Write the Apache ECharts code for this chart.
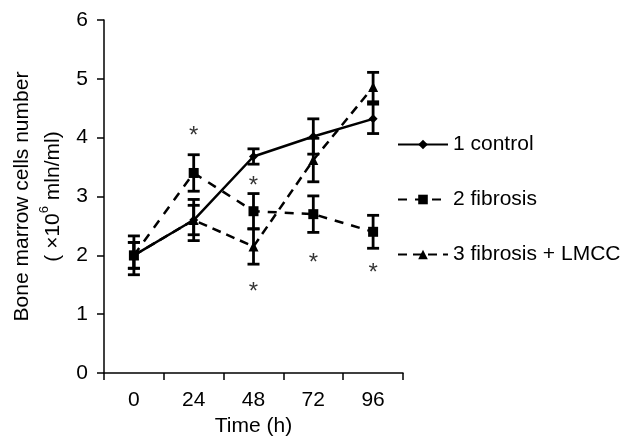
<!DOCTYPE html>
<html><head><meta charset="utf-8">
<script src="https://cdn.jsdelivr.net/npm/echarts@6/dist/echarts.min.js"></script>
<style>html,body{margin:0;padding:0;background:#fff}#c{width:622px;height:437px}</style>
</head><body><div id="c"></div>
<script>
var categories = ['0', '24', '48', '72', '96'];
var seriesNames = ['1 control', '2 fibrosis', '3 fibrosis + LMCC'];
var control = [2.0, 2.6, 3.68, 4.02, 4.32];
var controlErr = [0.22, 0.25, 0.13, 0.3, 0.25];
var fibrosis = [2.0, 3.4, 2.75, 2.7, 2.4];
var fibrosisErr = [0.33, 0.31, 0.3, 0.31, 0.28];
var lmcc = [2.0, 2.6, 2.15, 3.62, 4.86];
var lmccErr = [0.22, 0.35, 0.3, 0.37, 0.25];
// significance asterisks: [category index, y value]
var asterisks = [[1, 4.1], [2, 3.25], [2, 1.46], [3, 1.95], [4, 1.78]];
var yTicks = [0, 1, 2, 3, 4, 5, 6];

var FONT = 'Liberation Sans, Arial, sans-serif';
var FS = 21;

function errSeries(vals, errs) {
  var data = vals.map(function (v, i) { return [i, v - errs[i], v + errs[i]]; });
  return {
    type: 'custom',
    data: data,
    z: 3,
    silent: true,
    renderItem: function (params, api) {
      var x = api.value(0);
      var lo = api.coord([x, api.value(1)]);
      var hi = api.coord([x, api.value(2)]);
      var w = 6;
      var st = { stroke: '#000', lineWidth: 2.8 };
      return {
        type: 'group',
        children: [
          { type: 'line', shape: { x1: lo[0], y1: lo[1], x2: hi[0], y2: hi[1] }, style: st },
          { type: 'line', shape: { x1: lo[0] - w, y1: lo[1], x2: lo[0] + w, y2: lo[1] }, style: st },
          { type: 'line', shape: { x1: hi[0] - w, y1: hi[1], x2: hi[0] + w, y2: hi[1] }, style: st }
        ]
      };
    }
  };
}

var chart = echarts.init(document.getElementById('c'), null, { renderer: 'canvas' });
chart.setOption({
  animation: false,
  backgroundColor: '#fff',
  textStyle: { fontFamily: FONT },
  grid: { left: 104, top: 20, right: 219, bottom: 64, containLabel: false, outerBoundsMode: 'none' },
  legend: {
    orient: 'vertical',
    left: 392,
    top: 129,
    itemWidth: 50,
    itemHeight: 12,
    itemGap: 34,
    data: seriesNames,
    textStyle: { fontSize: FS, color: '#000', fontFamily: FONT },
    selectedMode: false
  },
  xAxis: {
    type: 'category',
    data: categories,
    boundaryGap: true,
    name: 'Time (h)',
    nameLocation: 'middle',
    nameGap: 41,
    nameTextStyle: { fontSize: FS, color: '#000', fontFamily: FONT },
    axisLine: { lineStyle: { color: '#000', width: 1.5 } },
    axisTick: { show: true, length: 7, lineStyle: { color: '#000', width: 1.5 } },
    axisLabel: { fontSize: FS, color: '#000', margin: 17, fontFamily: FONT },
    splitLine: { show: false }
  },
  yAxis: {
    type: 'value',
    min: yTicks[0],
    max: yTicks[yTicks.length - 1],
    interval: 1,
    name: '{a|Bone marrow cells number}\n{a|( ×10}{s|6}{a| mln/ml)}',
    nameLocation: 'middle',
    nameRotate: 90,
    nameGap: 35,
    nameTextStyle: {
      fontFamily: FONT,
      rich: {
        a: { fontSize: FS, color: '#000', fontFamily: FONT, lineHeight: 31 },
        s: { fontSize: 13, color: '#000', fontFamily: FONT, verticalAlign: 'top', lineHeight: 31, padding: [0, 0, 10, 0] }
      }
    },
    axisLine: { show: true, lineStyle: { color: '#000', width: 1.5 } },
    axisTick: { show: true, length: 7, lineStyle: { color: '#000', width: 1.5 } },
    axisLabel: { fontSize: FS, color: '#000', margin: 16, fontFamily: FONT },
    splitLine: { show: false }
  },
  series: [
    {
      name: seriesNames[0], type: 'line', data: control, z: 5,
      symbol: 'diamond', symbolSize: 9,
      itemStyle: { color: '#000' },
      lineStyle: { color: '#000', width: 2.5, type: 'solid' }
    },
    {
      name: seriesNames[1], type: 'line', data: fibrosis, z: 5,
      symbol: 'rect', symbolSize: 10,
      itemStyle: { color: '#000' },
      lineStyle: { color: '#000', width: 2.5, type: [9, 8] }
    },
    {
      name: seriesNames[2], type: 'line', data: lmcc, z: 5,
      symbol: 'triangle', symbolSize: 10,
      itemStyle: { color: '#000' },
      lineStyle: { color: '#000', width: 2.5, type: [9, 6] }
    },
    errSeries(control, controlErr),
    errSeries(fibrosis, fibrosisErr),
    errSeries(lmcc, lmccErr),
    {
      type: 'scatter',
      data: asterisks,
      symbolSize: 0,
      silent: true,
      label: {
        show: true, position: 'inside', formatter: '*',
        fontSize: 24, color: '#000', fontFamily: FONT, offset: [0, 5]
      }
    }
  ]
});
</script>
</body></html>
